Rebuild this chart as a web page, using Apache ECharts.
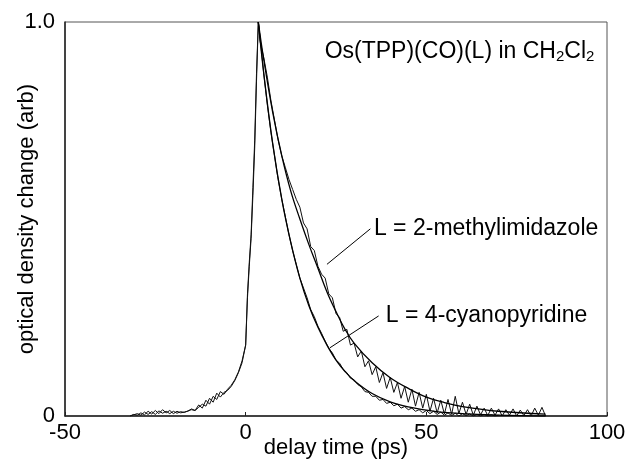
<!DOCTYPE html>
<html>
<head>
<meta charset="utf-8">
<script src="https://cdn.jsdelivr.net/npm/echarts@6/dist/echarts.min.js"></script>
<style>
  html, body { margin: 0; padding: 0; background: #fff; }
  #chart { width: 628px; height: 466px; }
</style>
</head>
<body>
<div id="chart"></div>
<script type="text/javascript">
// delay times (ps) of the measured traces
var delay = [-32, -31, -30, -29, -28, -27, -26, -25, -24, -23, -22, -21, -20, -19, -18, -17,
  -16, -15, -14, -13, -12, -11, -10, -9, -8, -7, -6, -5, -4, -3, -2, -1,
  0, 0.5, 1, 1.5, 2, 2.5, 3, 3.5,
  4, 5, 6, 7, 8, 9, 10, 11, 12, 13, 14, 15, 16, 17, 18, 19, 20, 21, 22, 23,
  24, 25, 26, 27, 28, 29, 30, 31, 32, 33, 34, 35, 36, 37, 38, 39, 40, 41, 42, 43,
  44, 45, 46, 47, 48, 49, 50, 51, 52, 53, 54, 55, 56, 57, 58, 59, 60, 61, 62, 63,
  64, 65, 66, 67, 68, 69, 70, 71, 72, 73, 74, 75, 76, 77, 78, 79, 80, 81, 82, 83];

// L = 2-methylimidazole, measured
var methylData = [0.0, 0.004, 0.002, 0.008, 0.003, 0.012, 0.005, 0.014, 0.006, 0.016, 0.008, 0.014, 0.006, 0.012, 0.008, 0.01,
  0.012, 0.018, 0.014, 0.022, 0.03, 0.025, 0.045, 0.035, 0.058, 0.048, 0.06, 0.065, 0.075, 0.09, 0.11, 0.135,
  0.18, 0.3, 0.38, 0.45, 0.56, 0.68, 0.85, 1.0,
  0.95, 0.91, 0.86, 0.8, 0.75, 0.7, 0.66, 0.63, 0.6, 0.575, 0.55, 0.53, 0.49, 0.475, 0.43, 0.42, 0.38, 0.36, 0.35, 0.31,
  0.3, 0.26, 0.25, 0.215, 0.22, 0.18, 0.185, 0.15, 0.165, 0.125, 0.14, 0.105, 0.125, 0.085, 0.11, 0.07, 0.098, 0.06, 0.085, 0.045,
  0.075, 0.035, 0.068, 0.025, 0.06, 0.02, 0.055, 0.012, 0.045, 0.008, 0.04, 0.005, 0.042, 0.004, 0.05, 0.006, 0.035, 0.004, 0.03, 0.002,
  0.025, 0.003, 0.02, 0.001, 0.02, 0.002, 0.018, 0.0, 0.016, 0.002, 0.018, 0.0, 0.015, 0.001, 0.016, 0.0, 0.02, 0.002, 0.022, 0.0];

// L = 4-cyanopyridine, measured (ends near 70 ps)
var cyanoData = [0.0, 0.003, 0.006, 0.002, 0.01, 0.004, 0.011, 0.004, 0.013, 0.007, 0.012, 0.006, 0.012, 0.007, 0.011, 0.009,
  0.013, 0.016, 0.014, 0.028, 0.02, 0.04, 0.03, 0.05, 0.042, 0.062, 0.055, 0.068, 0.078, 0.092, 0.112, 0.14,
  0.18, 0.31, 0.39, 0.46, 0.58, 0.7, 0.87, 1.0,
  0.96, 0.87, 0.79, 0.72, 0.66, 0.6, 0.55, 0.505, 0.46, 0.42, 0.385, 0.35, 0.325, 0.3, 0.27, 0.252, 0.228, 0.21, 0.19, 0.172,
  0.16, 0.142, 0.134, 0.118, 0.11, 0.096, 0.092, 0.08, 0.074, 0.062, 0.06, 0.05, 0.05, 0.04, 0.042, 0.032, 0.035, 0.026, 0.03, 0.02,
  0.024, 0.016, 0.02, 0.012, 0.016, 0.008, 0.014, 0.006, 0.012, 0.004, 0.01, 0.002, 0.008, 0.001, 0.007, 0.0, 0.006, 0.001, 0.005, 0.0,
  0.004, 0.0, 0.004, 0.0, 0.003, 0.0, 0.002];

// fitted decays
var fitTime = [3.5, 5, 7.5, 10, 12.5, 15, 17.5, 20, 22.5, 25, 27.5, 30, 35, 40, 45, 50, 55, 60, 70, 83];
var methylFit = [1.0, 0.905, 0.77, 0.66, 0.57, 0.5, 0.435, 0.375, 0.315, 0.265, 0.22, 0.185, 0.135, 0.097, 0.07, 0.048, 0.034, 0.024, 0.012, 0.005];
var cyanoFit = [1.0, 0.87, 0.69, 0.55, 0.44, 0.35, 0.28, 0.225, 0.18, 0.142, 0.113, 0.09, 0.057, 0.036, 0.023, 0.015, 0.009, 0.006, 0.002, 0.0];

var xTicks = [-50, 0, 50, 100];
var yTicks = ['0', '1.0'];

// annotation anchors, in data units: [from point on curve, to label]
var methylLeader = [[22.5, 0.385], [34.5, 0.475]];
var cyanoLeader = [[23.3, 0.173], [36.8, 0.254]];

var FONT = 'Liberation Sans';

function pairs(xs, ys) {
  var out = [];
  for (var i = 0; i < ys.length; i++) out.push([xs[i], ys[i]]);
  return out;
}

var myChart = echarts.init(document.getElementById('chart'), null, { renderer: 'canvas' });

var option = {
  animation: false,
  backgroundColor: '#fff',
  textStyle: { fontFamily: FONT },
  grid: {
    left: 65, right: 21, top: 22, bottom: 50,
    containLabel: false,
    outerBoundsMode: 'none',
    show: true, borderColor: '#555', borderWidth: 1
  },
  xAxis: {
    type: 'value',
    min: -50, max: 100, interval: 50,
    name: 'delay time (ps)',
    nameLocation: 'middle',
    nameGap: 21,
    nameMoveOverlap: false,
    nameTextStyle: { color: '#000', fontSize: 22, fontFamily: FONT },
    axisLine: { onZero: false, lineStyle: { color: '#222', width: 1.5 } },
    axisTick: { show: true, inside: true, length: 4, lineStyle: { color: '#222' } },
    axisLabel: {
      color: '#000', fontSize: 22, fontFamily: FONT, margin: 6,
      formatter: function (v) { return xTicks.indexOf(v) >= 0 ? String(v) : ''; }
    },
    splitLine: { show: false }
  },
  yAxis: {
    type: 'value',
    min: 0, max: 1, interval: 1,
    name: 'optical density change (arb)',
    nameLocation: 'middle',
    nameGap: 27,
    nameRotate: 90,
    nameMoveOverlap: false,
    nameTextStyle: { color: '#000', fontSize: 22, fontFamily: FONT },
    axisLine: { show: true, onZero: false, lineStyle: { color: '#222', width: 1.5 } },
    axisTick: { show: false },
    axisLabel: {
      color: '#000', fontSize: 22, fontFamily: FONT, margin: 10,
      formatter: function (v) { return v === 1 ? yTicks[1] : yTicks[0]; }
    },
    splitLine: { show: false }
  },
  series: [
    {
      name: 'methyl data', type: 'line', showSymbol: false,
      data: pairs(delay, methylData),
      lineStyle: { color: '#111', width: 1 }
    },
    {
      name: 'cyano data', type: 'line', showSymbol: false,
      data: pairs(delay, cyanoData),
      lineStyle: { color: '#111', width: 1 }
    },
    {
      name: 'methyl fit', type: 'line', showSymbol: false, smooth: 0.4,
      data: pairs(fitTime, methylFit),
      lineStyle: { color: '#000', width: 1.3 },
      markLine: {
        silent: true, symbol: 'none',
        lineStyle: { color: '#000', width: 1, type: 'solid' },
        label: { show: false },
        data: [[{ coord: methylLeader[0] }, { coord: methylLeader[1] }]]
      }
    },
    {
      name: 'cyano fit', type: 'line', showSymbol: false, smooth: 0.4,
      data: pairs(fitTime, cyanoFit),
      lineStyle: { color: '#000', width: 1.3 },
      markLine: {
        silent: true, symbol: 'none',
        lineStyle: { color: '#000', width: 1, type: 'solid' },
        label: { show: false },
        data: [[{ coord: cyanoLeader[0] }, { coord: cyanoLeader[1] }]]
      }
    }
  ]
};

myChart.setOption(option);

// text annotations placed from data coordinates
var pTitle = myChart.convertToPixel({ gridIndex: 0 }, [96.5, 0.925]);
var pMethyl = myChart.convertToPixel({ gridIndex: 0 }, [35.5, 0.475]);
var pCyano = myChart.convertToPixel({ gridIndex: 0 }, [38.8, 0.254]);

myChart.setOption({
  graphic: [
    {
      type: 'text', x: pTitle[0], y: pTitle[1],
      style: {
        text: '{n|Os(TPP)(CO)(L) in CH}{s|2}{n|Cl}{s|2}',
        align: 'right', verticalAlign: 'middle',
        rich: {
          n: { fontSize: 23, fontFamily: FONT, fill: '#000', lineHeight: 28 },
          s: { fontSize: 15, fontFamily: FONT, fill: '#000', lineHeight: 28, padding: [10, 0, 0, 0] }
        }
      }
    },
    {
      type: 'text', x: pMethyl[0], y: pMethyl[1],
      style: {
        text: 'L = 2-methylimidazole', fontSize: 23, fontFamily: FONT, fill: '#000',
        align: 'left', verticalAlign: 'middle'
      }
    },
    {
      type: 'text', x: pCyano[0], y: pCyano[1],
      style: {
        text: 'L = 4-cyanopyridine', fontSize: 23, fontFamily: FONT, fill: '#000',
        align: 'left', verticalAlign: 'middle'
      }
    }
  ]
});
</script>
</body>
</html>
